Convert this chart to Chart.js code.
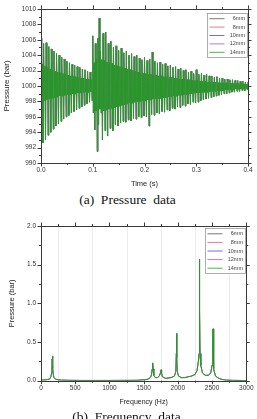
<!DOCTYPE html>
<html>
<head>
<meta charset="utf-8">
<script src="https://cdn.jsdelivr.net/npm/chart.js@4.4.1/dist/chart.umd.min.js"></script>
<style>
  html, body { margin:0; padding:0; background:#fff; width:257px; height:419px; overflow:hidden; }
  canvas { position:absolute; left:0; }
  #c1 { top:0; }
  #c2 { top:215px; }
  .cap { position:absolute; left:0; width:257px; text-align:center; font-family:"Liberation Serif","DejaVu Serif",serif; font-size:13.5px; color:#111; white-space:pre; line-height:16px; }
</style>
</head>
<body>
<canvas id="c1" width="257" height="192"></canvas>
<div class="cap" style="top:192px;left:-1px;">(a)  Pressure  data</div>
<canvas id="c2" width="257" height="195"></canvas>
<div class="cap" style="top:409px;left:-2px;">(b)  Frequency  data</div>
<script>
// ---------- legend / series ----------
const seriesNames = ['6mm','8mm','10mm','12mm','14mm'];
const seriesColors = ['#555555','#e05a6e','#4a4ad0','#c24cc2','#249a24'];

// ---------- (a) pressure: sampled on 0.0025 s bins, upper and lower excursion per bin ----------
const binStep = 0.0025;
const pressHigh = [
 1006.2,1002.8,1005.5,1002.6,1005.6,1002.4,1005.1,1002.2,1004.8,1002.0,
 1004.5,1001.9,1004.2,1001.8,1004.0,1001.7,1003.7,1001.6,1003.5,1001.5,
 1003.2,1001.4,1003.0,1001.3,1002.8,1001.2,1002.7,1001.2,1002.5,1001.1,
 1002.4,1001.0,1002.2,1001.0,1002.1,1000.9,1001.9,1000.9,1001.8,1000.8,
 1006.5,1003.0,1005.5,1003.5,1006.2,1008.8,1004.5,1003.4,1006.8,1003.3,
 1007.0,1003.1,1005.5,1003.0,1005.8,1002.9,1005.0,1002.7,1005.2,1002.6,
 1004.6,1002.5,1004.9,1002.4,1004.3,1002.3,1004.5,1002.2,1004.0,1002.1,
 1004.2,1002.0,1003.8,1001.9,1004.0,1001.8,1003.6,1001.7,1003.4,1001.6,
 1003.7,1001.6,1003.3,1001.5,1003.5,1001.5,1004.4,1001.4,1003.2,1001.4,
 1003.0,1001.3,1003.1,1001.3,1002.8,1001.2,1002.9,1001.2,1002.6,1001.1,
 1002.7,1001.1,1002.4,1001.0,1002.5,1001.0,1002.2,1000.9,1002.3,1000.9,
 1002.0,1000.9,1002.1,1000.8,1001.8,1000.8,1001.9,1000.7,1001.6,1000.7,
 1002.1,1000.7,1001.5,1000.6,1001.6,1000.6,1001.4,1000.6,1001.5,1000.5,
 1001.3,1000.5,1001.3,1000.5,1001.1,1000.5,1001.2,1000.4,1001.0,1000.4,
 1001.0,1000.4,1000.9,1000.4,1000.9,1000.3,1000.8,1000.3,1000.8,1000.3,
 1000.7,1000.3,1000.7,1000.3,1000.6,1000.3,1000.6,1000.2,1000.5,1000.2,
 1000.5
];
const pressLow = [
 998.0,992.6,998.1,993.0,998.2,993.6,998.3,994.0,998.4,994.4,
 998.5,994.8,998.6,995.1,998.7,995.4,998.7,995.7,998.8,996.0,
 998.9,996.2,998.9,996.5,999.0,996.7,999.0,996.9,999.1,997.1,
 999.1,997.3,999.2,997.5,999.2,997.7,999.2,997.9,999.3,998.1,
 996.5,994.3,996.8,991.5,995.0,997.0,996.5,993.0,996.8,994.2,
 996.9,993.5,997.0,994.5,997.1,994.2,997.2,995.0,997.3,994.8,
 997.4,995.2,997.5,995.4,997.6,995.3,997.7,995.6,997.8,995.5,
 997.8,995.8,997.9,995.7,998.0,996.0,998.0,995.9,998.1,996.1,
 998.1,996.0,998.2,994.8,998.2,996.3,998.3,996.2,998.3,996.5,
 998.4,996.4,998.4,996.7,998.5,996.6,998.5,996.9,998.6,996.8,
 998.6,997.1,998.7,997.0,998.7,997.3,998.8,997.2,998.8,997.5,
 998.9,997.4,998.9,997.7,999.0,997.6,999.0,997.9,999.1,997.8,
 999.1,997.9,999.1,998.1,999.2,998.2,999.2,998.3,999.2,998.4,
 999.3,998.5,999.3,998.6,999.3,998.7,999.4,998.8,999.4,998.9,
 999.4,999.0,999.5,999.0,999.5,999.1,999.5,999.2,999.5,999.2,
 999.6,999.3,999.6,999.3,999.6,999.4,999.6,999.4,999.7,999.5,
 999.7
];
const timeTicks = [0, 0.1, 0.2, 0.3, 0.4];
const timeMinor = [0.05, 0.15, 0.25, 0.35];
const pressTicks = [990, 992, 994, 996, 998, 1000, 1002, 1004, 1006, 1008, 1010];
const pressMinor = [991, 993, 995, 997, 999, 1001, 1003, 1005, 1007, 1009];

// ---------- (b) frequency spectrum ----------
const freqHz = [0,50,100,130,145,155,160,164,167,170,
 174,180,190,210,250,300,400,600,1000,1400,
 1550,1600,1615,1625,1632,1638,1648,1670,1700,1730,
 1745,1755,1762,1775,1820,1900,1950,1970,1978,1982,
 1986,1992,2010,2050,2100,2150,2200,2250,2280,2300,
 2310,2314,2317,2320,2324,2335,2360,2400,2450,2480,
 2500,2510,2514,2518,2528,2550,2600,2650,2700,2800,
 3000];
const ampSpec = [0.01,0.01,0.015,0.025,0.05,0.1,0.18,0.28,0.32,0.26,
 0.16,0.08,0.04,0.02,0.012,0.008,0.005,0.003,0.003,0.005,
 0.015,0.04,0.08,0.15,0.23,0.15,0.07,0.04,0.04,0.06,
 0.1,0.14,0.1,0.05,0.03,0.04,0.06,0.12,0.35,0.61,
 0.3,0.12,0.06,0.04,0.04,0.05,0.06,0.08,0.13,0.25,
 0.35,0.9,1.57,0.9,0.35,0.2,0.1,0.07,0.07,0.1,
 0.2,0.45,0.67,0.4,0.15,0.06,0.03,0.015,0.008,0.004,
 0.002];
const freqTicks = [0, 500, 1000, 1500, 2000, 2500, 3000];
const freqMinor = [250, 750, 1250, 1750, 2250, 2750];
const ampTicks = [0, 0.5, 1.0, 1.5, 2.0];
const ampMinor = [0.25, 0.75, 1.25, 1.75];

// ---------- build datasets ----------
const pressPts = [];
pressHigh.forEach((h, i) => {
  const t = i * binStep;
  pressPts.push({x: t, y: h});
  pressPts.push({x: t + binStep / 2, y: pressLow[i]});
});
const specPts = freqHz.map((f, i) => ({x: f, y: ampSpec[i]}));

const FONT = '"Liberation Sans", Arial, sans-serif';

const framePlugin = {
  id: 'frame',
  afterDatasetsDraw(chart, args, o) {
    const {ctx, chartArea: ca, scales} = chart;
    ctx.save();
    ctx.strokeStyle = '#3a3a3a'; ctx.lineWidth = 1;
    ctx.strokeRect(Math.round(ca.left) + 0.5, Math.round(ca.top) + 0.5, Math.round(ca.right - ca.left), Math.round(ca.bottom - ca.top));
    const tick = (vals, len, axis) => vals.forEach(v => {
      if (axis === 'x') {
        const px = Math.round(scales.x.getPixelForValue(v)) + 0.5;
        ctx.beginPath(); ctx.moveTo(px, ca.bottom); ctx.lineTo(px, ca.bottom + len); ctx.stroke();
        ctx.beginPath(); ctx.moveTo(px, ca.top); ctx.lineTo(px, ca.top - len); ctx.stroke();
      } else {
        const py = Math.round(scales.y.getPixelForValue(v)) + 0.5;
        ctx.beginPath(); ctx.moveTo(ca.left, py); ctx.lineTo(ca.left - len, py); ctx.stroke();
        ctx.beginPath(); ctx.moveTo(ca.right, py); ctx.lineTo(ca.right + len, py); ctx.stroke();
      }
    });
    tick(o.xMajor, 3.5, 'x'); tick(o.xMinor, 2, 'x');
    tick(o.yMajor, 3.5, 'y'); tick(o.yMinor, 2, 'y');
    // legend
    const x0 = Math.round(ca.right - 41) + 0.5, y0 = Math.round(ca.top + o.legTop) + 0.5;
    const rowH = o.rowH, bh = rowH * 5 + 2;
    ctx.fillStyle = '#fff'; ctx.fillRect(x0, y0, 40, bh);
    ctx.strokeStyle = '#8a8a8a'; ctx.lineWidth = 0.7; ctx.strokeRect(x0, y0, 40, bh);
    ctx.font = '5.5px ' + FONT; ctx.textAlign = 'right'; ctx.textBaseline = 'middle';
    chart.data.datasets.forEach((ds, i) => {
      const cy = y0 + 1 + rowH * (i + 0.5);
      ctx.strokeStyle = ds.legendColor; ctx.lineWidth = 0.8;
      ctx.beginPath(); ctx.moveTo(x0 + 2, cy); ctx.lineTo(x0 + 17, cy); ctx.stroke();
      ctx.fillStyle = '#444'; ctx.fillText(ds.label, x0 + 37.5, cy);
    });
    ctx.restore();
  },
  beforeDatasetsDraw(chart, args, o) {
    if (!o.grid) return;
    const {ctx, chartArea: ca, scales} = chart;
    ctx.save();
    ctx.strokeStyle = '#e6e6e6'; ctx.lineWidth = 0.8;
    o.xMinor.forEach(v => { const px = Math.round(scales.x.getPixelForValue(v)) + 0.5;
      ctx.beginPath(); ctx.moveTo(px, ca.top); ctx.lineTo(px, ca.bottom); ctx.stroke(); });
    ctx.restore();
  }
};

function makeChart(id, pts, xCfg, yCfg, frameOpts, pad, lw) {
  const last = seriesNames.length - 1;
  const datasets = seriesNames.map((n, i) => ({
    label: n, data: pts.map(p => ({x: p.x, y: p.y})), borderColor: seriesColors[i], legendColor: seriesColors[i],
    borderWidth: i === last ? lw : 0.35, pointRadius: 0, tension: 0, fill: false,
    order: last - i
  }));
  return new Chart(document.getElementById(id), {
    type: 'line',
    data: { datasets },
    options: {
      responsive: false, animation: false, devicePixelRatio: 1,
      layout: { padding: pad },
      plugins: { legend: { display: false }, tooltip: { enabled: false }, frame: frameOpts },
      scales: {
        x: {
          type: 'linear', min: xCfg.min, max: xCfg.max,
          afterBuildTicks: s => { s.ticks = xCfg.ticks.map(v => ({value: v})); },
          afterFit: s => { s.height = xCfg.h; },
          grid: { display: false, drawTicks: false }, border: { display: false },
          ticks: { callback: xCfg.fmt, padding: xCfg.pad, maxRotation: 0, autoSkip: false, color: '#333', font: { family: FONT, size: 6.5 } },
          title: { display: true, text: xCfg.title, color: '#222', font: { family: FONT, size: xCfg.ts }, padding: { top: 0, bottom: xCfg.tpad } }
        },
        y: {
          type: 'linear', min: yCfg.min, max: yCfg.max,
          afterBuildTicks: s => { s.ticks = yCfg.ticks.map(v => ({value: v})); },
          afterFit: s => { s.width = 41; },
          grid: { display: false, drawTicks: false }, border: { display: false },
          ticks: { callback: yCfg.fmt, padding: 5, autoSkip: false, color: '#333', font: { family: FONT, size: 6.5 } },
          title: { display: true, text: 'Pressure (bar)', color: '#222', font: { family: FONT, size: yCfg.ts }, padding: { top: yCfg.tpad, bottom: 0 } }
        }
      }
    },
    plugins: [framePlugin]
  });
}

makeChart('c1', pressPts,
  { min: 0, max: 0.4, ticks: timeTicks, fmt: v => v.toFixed(1), title: 'Time (s)', h: 29, pad: 3, ts: 7.5, tpad: 4 },
  { min: 990, max: 1010, ticks: pressTicks, fmt: v => String(v), ts: 8, tpad: 1.5 },
  { xMajor: timeTicks, xMinor: timeMinor, yMajor: pressTicks, yMinor: pressMinor, grid: false, legTop: 4.4, rowH: 8.4 },
  { top: 7.5, right: 9, left: 0, bottom: 0 }, 0.9);

makeChart('c2', specPts,
  { min: 0, max: 3000, ticks: freqTicks, fmt: v => String(v), title: 'Frequency (Hz)', h: 29.3, pad: 3.5, ts: 7, tpad: 3.5 },
  { min: 0, max: 2, ticks: ampTicks, fmt: v => v.toFixed(1), ts: 7.5, tpad: 7.5 },
  { xMajor: freqTicks, xMinor: freqMinor, yMajor: ampTicks, yMinor: ampMinor, grid: true, legTop: 2, rowH: 8.6 },
  { top: 11, right: 8, left: 0, bottom: 0 }, 1);
</script>
</body>
</html>
